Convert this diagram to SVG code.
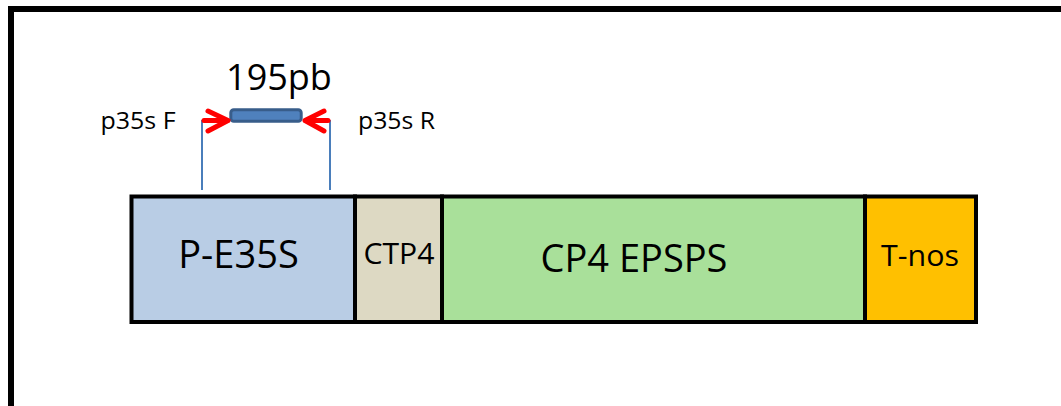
<svg xmlns="http://www.w3.org/2000/svg" width="1061" height="406" viewBox="0 0 1061 406">
<style>
.t{font-family:"Open Sans","Noto Sans",sans-serif;fill:#000}
.box{stroke:#000;stroke-width:4}
.lead{stroke:#4a7ebb;stroke-width:2;fill:none}
.arr{stroke:#ff0000;stroke-width:5;fill:none;stroke-linecap:round;stroke-linejoin:round}
</style>
<rect width="1061" height="406" fill="#fff"/>
<path d="M11 406 V9 H1061" fill="none" stroke="#000" stroke-width="6"/>
<g id="pe35s">
<rect class="box" x="131.5" y="196.5" width="223.5" height="125.5" fill="#b9cde5"/>
<text class="t" x="238.5" y="268" font-size="38" text-anchor="middle">P-E35S</text>
</g>
<g id="ctp4">
<rect class="box" x="355" y="196.5" width="87" height="125.5" fill="#ddd9c3"/>
<text class="t" x="399" y="263.5" font-size="29" text-anchor="middle" textLength="71" lengthAdjust="spacingAndGlyphs">CTP4</text>
</g>
<g id="cp4epsps">
<rect class="box" x="442" y="196.5" width="423" height="125.5" fill="#a9e09a"/>
<text class="t" x="634" y="271.5" font-size="38" text-anchor="middle">CP4 EPSPS</text>
</g>
<g id="tnos">
<rect class="box" x="865" y="196.5" width="111" height="125.5" fill="#ffc000"/>
<text class="t" x="920" y="266" font-size="30" text-anchor="middle" textLength="78" lengthAdjust="spacingAndGlyphs">T-nos</text>
</g>
<g id="amplicon">
<rect x="230.8" y="109.8" width="70.4" height="11.4" rx="3" fill="#4f81bd" stroke="#385d8a" stroke-width="3"/>
<text class="t" x="279" y="90" font-size="36" text-anchor="middle">195pb</text>
</g>
<g id="primerF">
<text class="t" x="138" y="128.5" font-size="24" text-anchor="middle" textLength="75" lengthAdjust="spacingAndGlyphs">p35s F</text>
</g>
<g id="primerR">
<text class="t" x="396.5" y="128.5" font-size="24" text-anchor="middle" textLength="77" lengthAdjust="spacingAndGlyphs">p35s R</text>
</g>
<g id="connectors">
<path class="lead" d="M202 120 V190"/>
<path class="lead" d="M330 120 V190"/>
<path class="arr" d="M204 120.5 H228 M208 111 L228 120.5 L208 131"/>
<path class="arr" d="M328 120.5 H305 M324 111 L305 120.5 L324 131"/>
</g>
</svg>
